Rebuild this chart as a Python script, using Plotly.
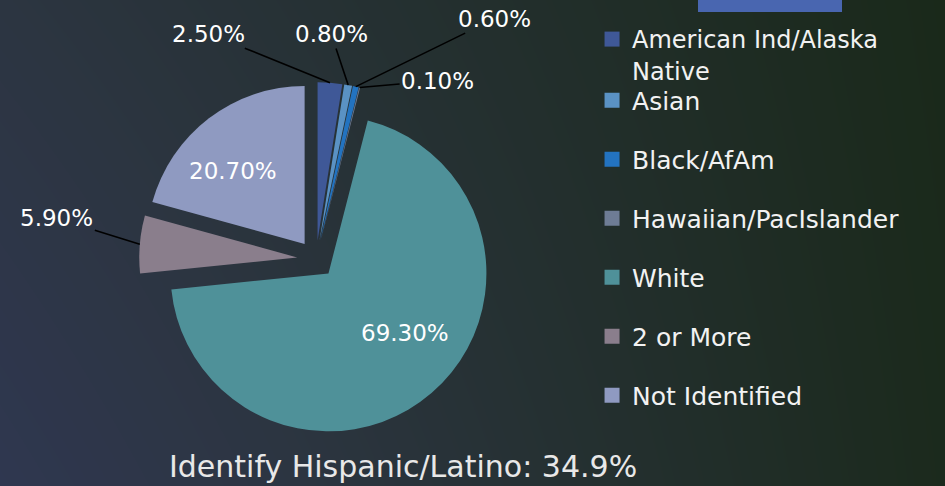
import numpy as np
import plotly.graph_objects as go

# ---------------- data ----------------
categories = ["American Ind/Alaska Native", "Asian", "Black/AfAm", "Hawaiian/PacIslander",
              "White", "2 or More", "Not Identified"]
legend_labels = ["American Ind/Alaska<br>Native", "Asian", "Black/AfAm", "Hawaiian/PacIslander",
                 "White", "2 or More", "Not Identified"]
values = [2.5, 0.8, 0.6, 0.1, 69.3, 5.9, 20.7]
colors = ["#3F5897", "#5A92C4", "#2373C0", "#6E7C95", "#4F9199", "#8A7E8C", "#8F9AC1"]
title_text = "Identify Hispanic/Latino: 34.9%"

# ---------------- layout constants ----------------
W, H = 945, 486
FONT = "DejaVu Sans"
PULL = 0.12
dom_x = [0.147, 0.522]
dom_y = [0.103, 0.831]
# label placement (px) relative to each slice's outer edge point at its mid-angle
label_offsets = {0: (-121, -49), 1: (-17, -51), 2: (139, -68), 3: (78, -7), 5: (-83, -26)}
# inside labels: placement (px) relative to the slice apex
inside_offsets = {4: (77, 60), 6: (-72, -73)}

labels_txt = [f"{v:.2f}%" for v in values]

fig = go.Figure()

# background gradient (styling only)
bg_z = [[0.0, 0.95], [0.3, 1.0]]
fig.add_trace(go.Heatmap(z=bg_z, x=[0, 1], y=[0, 1], zsmooth="best", showscale=False,
                         colorscale=[[0, "#2F3750"], [0.3, "#2C3541"], [1, "#1A291A"]],
                         hoverinfo="skip", zmin=0, zmax=1))

fig.add_trace(go.Pie(
    labels=categories, values=values, marker=dict(colors=colors, line=dict(width=0)),
    sort=False, direction="clockwise", rotation=0, pull=[PULL] * len(values),
    textinfo="none", domain=dict(x=dom_x, y=dom_y), showlegend=False,
    hoverinfo="label+value",
))

# legend entries (legend-only dummy traces so spacing can follow the reference)
for i, (lab, c) in enumerate(zip(legend_labels, colors)):
    fig.add_trace(go.Scatter(x=[None], y=[None], mode="markers", name=lab,
                             marker=dict(symbol="square", size=15, color=c),
                             legend="legend" if i == 0 else "legend2",
                             legendgroup=f"g{i}", showlegend=True, hoverinfo="skip"))

# slice geometry derived from the data (same formula plotly uses for the pie)
tot = sum(values)
cum = np.cumsum([0] + values) / tot * 360.0
boxw = W * (dom_x[1] - dom_x[0])
boxh = H * (dom_y[1] - dom_y[0])
r = min(boxw, boxh) / (2 + 2 * PULL)
cx = W * (dom_x[0] + dom_x[1]) / 2
cy = H * (1 - dom_y[0]) - boxh / 2

lab_font = dict(family=FONT, size=23, color="#FFFFFF")
annotations = []
for i, (ox, oy) in label_offsets.items():
    mid = np.deg2rad((cum[i] + cum[i + 1]) / 2)
    px = cx + (1 + PULL) * r * np.sin(mid)
    py = cy - (1 + PULL) * r * np.cos(mid)
    annotations.append(dict(x=px / W, y=1 - py / H, xref="paper", yref="paper",
                            text=labels_txt[i], showarrow=True, arrowhead=0,
                            arrowwidth=1.6, arrowcolor="#000000", ax=ox, ay=oy,
                            standoff=0, font=lab_font))
for i, (ox, oy) in inside_offsets.items():
    mid = np.deg2rad((cum[i] + cum[i + 1]) / 2)
    px = cx + PULL * r * np.sin(mid)
    py = cy - PULL * r * np.cos(mid)
    annotations.append(dict(x=px / W, y=1 - py / H, xref="paper", yref="paper",
                            xanchor="center", yanchor="middle",
                            text=labels_txt[i], showarrow=False,
                            xshift=ox, yshift=-oy, font=lab_font))

leg_font = dict(family=FONT, size=25, color="#F2F2F2")
fig.update_layout(
    width=W, height=H, margin=dict(l=0, r=0, t=0, b=0),
    paper_bgcolor="#262f33", plot_bgcolor="rgba(0,0,0,0)",
    xaxis=dict(visible=False, range=[0, 1], domain=[0, 1], fixedrange=True),
    yaxis=dict(visible=False, range=[0, 1], domain=[0, 1], fixedrange=True),
    title=dict(text=title_text, x=0.4265, xanchor="center", y=1 - 466 / H, yanchor="middle",
               xref="paper", yref="paper", font=dict(family=FONT, size=30, color="#E8E8E8")),
    legend=dict(x=0.6265, xanchor="left", y=1 - 17 / H, yanchor="top", valign="top",
                bgcolor="rgba(0,0,0,0)", font=dict(family=FONT, size=24, color="#F2F2F2")),
    legend2=dict(x=0.6265, xanchor="left", y=1 - 77.5 / H, yanchor="top", valign="middle",
                 traceorder="grouped", tracegroupgap=23.5,
                 bgcolor="rgba(0,0,0,0)", font=leg_font),
    annotations=annotations,
    shapes=[dict(type="rect", xref="paper", yref="paper", x0=698 / W, x1=842 / W,
                 y0=1 - 12 / H, y1=1.0, fillcolor="#4966B0", line=dict(width=0))],
)

fig.write_html("out.html", config={"displayModeBar": False},
               post_script="document.body.style.margin='0';document.body.style.overflow='hidden';")
